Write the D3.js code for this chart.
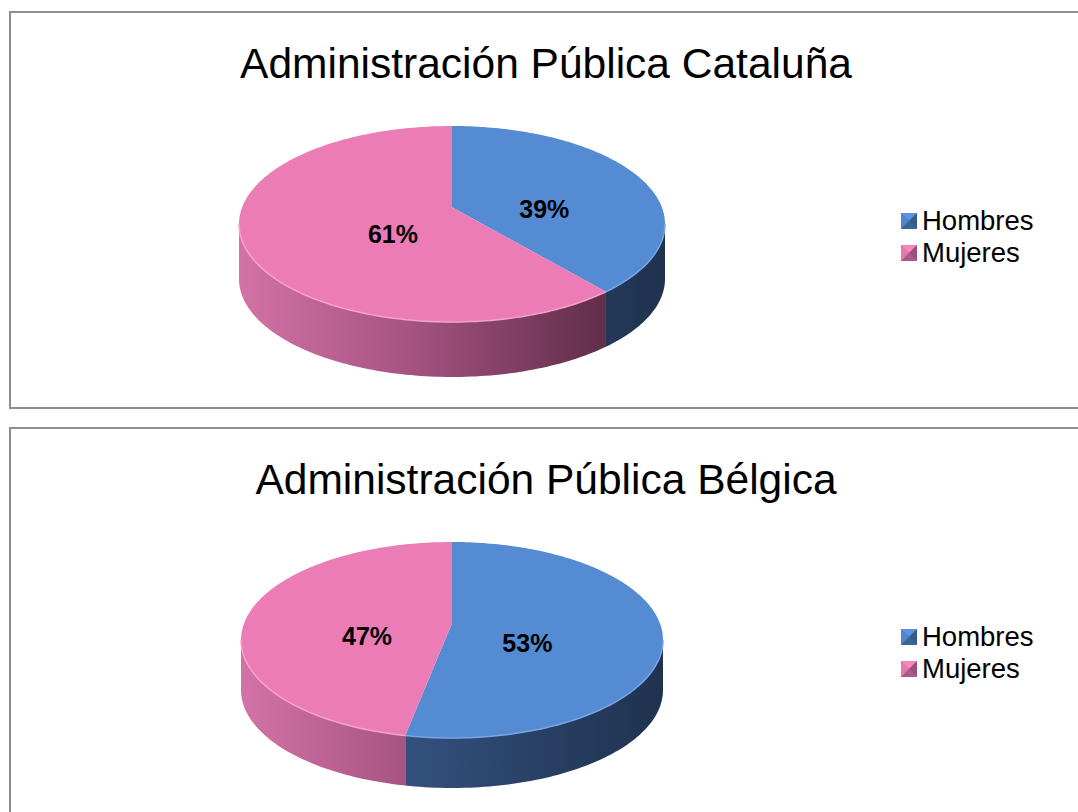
<!DOCTYPE html>
<html>
<head>
<meta charset="utf-8">
<script src="https://cdn.jsdelivr.net/npm/d3@7"></script>
<style>
  body { margin: 0; background: #fff; }
  svg { display: block; font-family: "Liberation Sans", Arial, sans-serif; }
</style>
</head>
<body>
<div id="chart"></div>
<script>
// chart data
var titles = ["Administración Pública Cataluña", "Administración Pública Bélgica"];
var categories = ["Hombres", "Mujeres"];
var cataluna = [39, 61];
var belgica = [53, 47];
var seriesList = [cataluna, belgica];

var svgWidth = 1078, svgHeight = 812;

var topColor = { Hombres: "#558bd3", Mujeres: "#ec7cb5" };
var rimColor = { Hombres: "#78a6e6", Mujeres: "#f6a3cd" };
var sideStops = {
  Hombres: ["#4d74ad", "#34517f", "#24395a", "#1f324e"],
  Mujeres: ["#d372a6", "#a85584", "#622e4a", "#58293f"]
};

var svg = d3.select("#chart").append("svg")
  .attr("width", svgWidth)
  .attr("height", svgHeight);

var defs = svg.append("defs");

var panels = [
  { top: 12, height: 396, rx: 213, ry: 98, depth: 55 },
  { top: 428, height: 400, rx: 211, ry: 98, depth: 50 }
];

// perspective tilt: how far the pie centre sits above the ellipse centre (fraction of ry)
var beta = 0.17;

var pie = d3.pie().sort(null).value(d => d);
var line = d3.line();

function drawPanel(p, idx) {
  var values = seriesList[idx];
  var g = svg.append("g");

  g.append("rect")
    .attr("x", 10).attr("y", p.top)
    .attr("width", 1200).attr("height", p.height)
    .attr("fill", "#fff")
    .attr("stroke", "#8e8e8e")
    .attr("stroke-width", 2);

  g.append("text")
    .attr("x", 546).attr("y", p.top + 66)
    .attr("text-anchor", "middle")
    .style("font-size", "42.5px")
    .style("fill", "#000")
    .text(titles[idx]);

  var cx = 452, cy = p.top + 212, rx = p.rx, ry = p.ry, depth = p.depth;
  var arcs = pie(values);

  // circle (r, angle) -> screen, with a simple perspective
  function proj(r, t) {
    var X = r * Math.sin(t), Z = r * Math.cos(t);
    var w = 1 + beta * Z;
    return [cx + rx * X * Math.sqrt(1 - beta * beta) / w, cy - ry * (Z + beta) / w];
  }
  function rimPoints(a0, a1) {
    var n = Math.max(2, Math.ceil((a1 - a0) / 0.02));
    return d3.range(n + 1).map(i => proj(1, a0 + (a1 - a0) * i / n));
  }

  categories.forEach(function(c) {
    var grad = defs.append("linearGradient")
      .attr("id", "side-" + idx + "-" + c)
      .attr("gradientUnits", "userSpaceOnUse")
      .attr("x1", cx - rx).attr("x2", cx + rx)
      .attr("y1", 0).attr("y2", 0);
    var offs = [0, 0.38, 0.85, 1];
    sideStops[c].forEach(function(col, i) {
      grad.append("stop").attr("offset", offs[i]).attr("stop-color", col);
    });
  });

  // visible front of the wall
  var frontA = Math.acos(-beta), frontB = 2 * Math.PI - Math.acos(-beta);

  arcs.forEach(function(a, i) {
    var s = Math.max(a.startAngle, frontA);
    var e = Math.min(a.endAngle, frontB);
    if (e <= s) return;
    var upper = rimPoints(s, e);
    var lower = upper.map(q => [q[0], q[1] + depth]).reverse();
    g.append("path")
      .attr("d", line(upper.concat(lower)) + "Z")
      .attr("fill", "url(#side-" + idx + "-" + categories[i] + ")");
  });

  arcs.forEach(function(a, i) {
    var pts = [proj(0, 0)].concat(rimPoints(a.startAngle, a.endAngle));
    g.append("path")
      .attr("d", line(pts) + "Z")
      .attr("fill", topColor[categories[i]]);

    var s = Math.max(a.startAngle, frontA);
    var e = Math.min(a.endAngle, frontB);
    if (e > s) {
      g.append("path")
        .attr("d", line(rimPoints(s, e)))
        .attr("fill", "none")
        .attr("stroke", rimColor[categories[i]])
        .attr("stroke-width", 1.5);
    }
  });

  // percentage labels
  arcs.forEach(function(a) {
    var span = a.endAngle - a.startAngle;
    var mid = (a.startAngle + a.endAngle) / 2;
    var f = 0.9 * (4 * Math.sin(span / 2)) / (3 * span);
    var lx = cx + rx * f * Math.sin(mid), ly = cy - ry * f * Math.cos(mid);
    g.append("text")
      .attr("x", lx).attr("y", ly + 9)
      .attr("text-anchor", "middle")
      .style("font-size", "25px")
      .style("font-weight", "bold")
      .style("fill", "#000")
      .text(a.data + "%");
  });

  // legend
  var legend = g.append("g").attr("transform", "translate(901," + (p.top + 201) + ")");
  categories.forEach(function(c, i) {
    var lg = legend.append("g").attr("transform", "translate(0," + (i * 32) + ")");
    var sz = 16, h = sz / 2;
    var base = d3.color(topColor[c]);
    lg.append("rect").attr("width", sz).attr("height", sz).attr("fill", base.darker(0.6));
    lg.append("path").attr("d", "M0,0 L" + sz + ",0 L" + h + "," + h + " Z").attr("fill", base.brighter(0.2));
    lg.append("path").attr("d", "M0,0 L0," + sz + " L" + h + "," + h + " Z").attr("fill", base.darker(0.1));
    lg.append("path").attr("d", "M" + sz + ",0 L" + sz + "," + sz + " L" + h + "," + h + " Z").attr("fill", base.darker(1.2));
    lg.append("path").attr("d", "M0," + sz + " L" + sz + "," + sz + " L" + h + "," + h + " Z").attr("fill", base.darker(0.9));
    lg.append("text")
      .attr("x", 21).attr("y", sz + 1)
      .style("font-size", "27.5px")
      .style("fill", "#000")
      .text(c);
  });
}

panels.forEach(drawPanel);
</script>
</body>
</html>
